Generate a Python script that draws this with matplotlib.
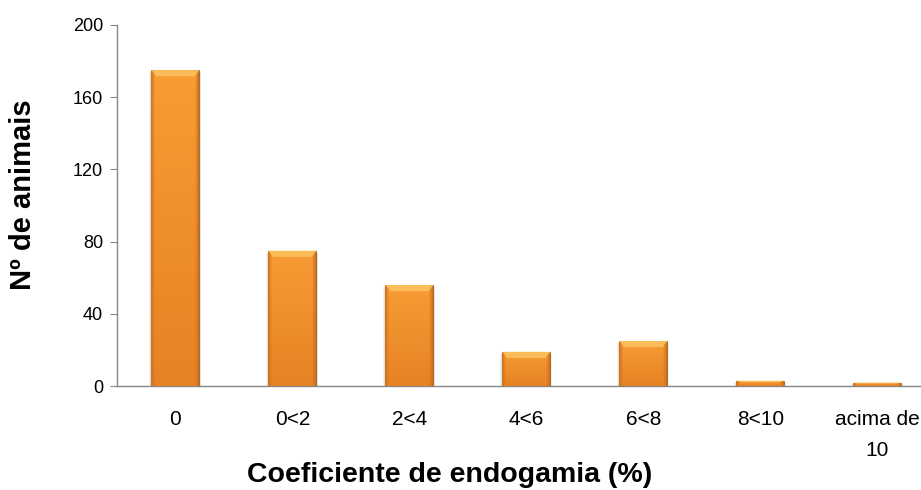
import numpy as np
import matplotlib.pyplot as plt

# inbreeding coefficient classes and number of animals
categorias = ["0", "0<2", "2<4", "4<6", "6<8", "8<10", "acima de\n10"]
n_animais = [175, 75, 56, 19, 25, 3, 2]

plt.rcParams["font.family"] = ["Liberation Sans", "DejaVu Sans"]

fig = plt.figure(figsize=(9.21, 4.90), dpi=100)
# the plot area runs a little past the right edge of the figure
ax = fig.add_axes([0.127, 0.212, 0.889, 0.737])

x = np.arange(len(categorias))
bars = ax.bar(x, n_animais, width=0.41, color="#F3912C", edgecolor="#A85A14",
              linewidth=0.6, zorder=3)

# shading: slightly darker sides, warm top fading to a deeper orange at the base
u = np.linspace(0, 1, 80)
side = np.clip(np.minimum(u, 1 - u) / 0.08, 0, 1)
top = np.array([0.976, 0.612, 0.204])
bot = np.array([0.902, 0.510, 0.145])
edge = np.array([0.80, 0.45, 0.11])
for b in bars:
    x0, y0 = b.get_x(), b.get_y()
    w, h = b.get_width(), b.get_height()
    v = np.linspace(1, 0, 60)[:, None]
    rgb = np.empty((60, 80, 3))
    rgb[:] = bot + (top - bot) * v[..., None]
    rgb = rgb * side[None, :, None] + edge * (1 - side[None, :, None])
    im = ax.imshow(rgb, aspect="auto", zorder=4, interpolation="bilinear",
                   extent=(x0, x0 + w, y0, y0 + h))
    im.set_clip_path(b)
    # soft shadow around the bar
    for k, a in [(0.035, 0.05), (0.02, 0.07)]:
        ax.bar(x0 + w / 2, h + 0.6, width=w + k, bottom=-1.6,
               color="#000000", alpha=a, zorder=2, linewidth=0)
    # light bevel along the top
    bev = min(3.4, h * 0.3)
    ax.fill([x0, x0 + w, x0 + w * 0.9, x0 + w * 0.1],
            [h, h, h - bev, h - bev], color="#FCC462", alpha=0.85,
            zorder=5, linewidth=0)

ax.set_xlim(-0.5, 6.5)
ax.set_ylim(0, 200)
ax.set_yticks([0, 40, 80, 120, 160, 200])
ax.set_xticks(x)
ax.set_xticklabels(categorias, linespacing=1.8)

for s in ["top", "right"]:
    ax.spines[s].set_visible(False)
for s in ["left", "bottom"]:
    ax.spines[s].set_color("#868686")
    ax.spines[s].set_linewidth(1.0)

ax.tick_params(axis="y", length=5, color="#868686", labelsize=13, pad=5)
ax.tick_params(axis="x", length=0, labelsize=15, pad=17)

fig.text(23 / 921, 1 - 195 / 490, "Nº de animais", fontsize=21,
         fontweight="bold", rotation=90, ha="center", va="center")
fig.text(450 / 921, 1 - 475 / 490, "Coeficiente de endogamia (%)",
         fontsize=20.5, fontweight="bold", ha="center", va="center")

fig.savefig("out.png", dpi=100)
